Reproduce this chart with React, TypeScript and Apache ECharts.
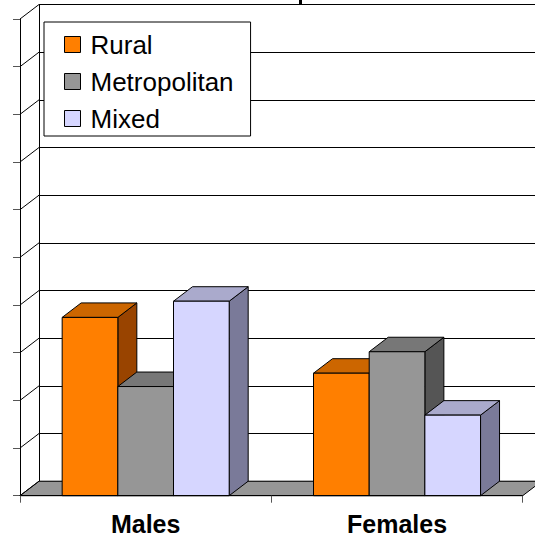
import React, { useEffect, useRef } from "react";
import * as echarts from "echarts";

const categories = ["Males", "Females"];
const seriesNames = ["Rural", "Metropolitan", "Mixed"];
const ruralValues = [3.74, 2.57];
const metroValues = [2.29, 3.02];
const mixedValues = [4.08, 1.69];
const valueTicks = [0, 1, 2, 3, 4, 5, 6, 7, 8, 9, 10];

const faceColors = [
  { front: "#FF7F00", top: "#CC6600", side: "#994400" },
  { front: "#969696", top: "#777777", side: "#555555" },
  { front: "#D6D6FF", top: "#AAAACC", side: "#7A7A99" },
];

const DX = 19;
const DY = -14.5;
const BAR_FRAC = 0.2215;

function barRenderer(i: number) {
  const c = faceColors[i];
  return (params: any, api: any) => {
    const cat = api.value(0);
    const val = api.value(1);
    const top = api.coord([cat, val]);
    const base = api.coord([cat, 0]);
    const band = api.size([1, 0])[0];
    const w = band * BAR_FRAC;
    const x0 = top[0] + (i - 1.5) * w;
    const x1 = x0 + w;
    const yT = top[1];
    const yB = base[1];
    return {
      type: "group",
      children: [
        {
          type: "polygon",
          shape: { points: [[x1, yT], [x1 + DX, yT + DY], [x1 + DX, yB + DY], [x1, yB]] },
          style: { fill: c.side, stroke: "#000", lineWidth: 1 },
        },
        {
          type: "polygon",
          shape: { points: [[x0, yT], [x1, yT], [x1 + DX, yT + DY], [x0 + DX, yT + DY]] },
          style: { fill: c.top, stroke: "#000", lineWidth: 1 },
        },
        {
          type: "rect",
          shape: { x: x0, y: yT, width: w, height: yB - yT },
          style: { fill: c.front, stroke: "#000", lineWidth: 1 },
        },
      ],
    };
  };
}

function frameRenderer(params: any, api: any) {
  const cs = params.coordSys;
  const gx = cs.x;
  const gw = cs.width;
  const yB = api.coord([0, 0])[1];
  const children: any[] = [
    {
      type: "polygon",
      shape: { points: [[gx, yB], [gx + gw, yB], [gx + gw + DX, yB + DY], [gx + DX, yB + DY]] },
      style: { fill: "#969696", stroke: "#000", lineWidth: 1 },
    },
  ];
  valueTicks.forEach((v) => {
    const y = api.coord([0, v])[1];
    children.push({
      type: "line",
      shape: { x1: gx, y1: y, x2: gx + DX, y2: y + DY },
      style: { stroke: "#000", lineWidth: 1 },
    });
  });
  return { type: "group", children };
}

const allValues = [ruralValues, metroValues, mixedValues];

export default function App() {
  const ref = useRef<HTMLDivElement>(null);
  useEffect(() => {
    if (!ref.current) return;
    const chart = echarts.init(ref.current, null, { renderer: "svg" });
    const font = "'Liberation Sans', Arial, sans-serif";
    const option: any = {
      animation: false,
      backgroundColor: "#fff",
      grid: [
        { left: 20, top: 19, right: 12.3, bottom: 43.3 },
        { left: 20 + DX, top: 19 + DY, right: 12.3 - DX, bottom: 43.3 - DY },
      ],
      xAxis: [
        {
          type: "category",
          gridIndex: 0,
          data: categories,
          axisLine: { show: true, lineStyle: { color: "#000", width: 1 } },
          axisTick: { show: true, length: 7, lineStyle: { color: "#555" } },
          axisLabel: {
            fontFamily: font,
            fontWeight: "bold",
            fontSize: 25,
            color: "#000",
            margin: 16,
          },
          z: 5,
        },
        {
          type: "category",
          gridIndex: 1,
          data: categories,
          show: false,
        },
      ],
      yAxis: [
        {
          type: "value",
          gridIndex: 0,
          min: 0,
          max: 10,
          interval: 1,
          axisLine: { show: true, lineStyle: { color: "#000", width: 1 } },
          axisTick: { show: true, length: 7, lineStyle: { color: "#555" } },
          axisLabel: { show: false },
          splitLine: { show: false },
        },
        {
          type: "value",
          gridIndex: 1,
          min: 0,
          max: 10,
          interval: 1,
          axisLine: { show: true, lineStyle: { color: "#000", width: 1 } },
          axisTick: { show: false },
          axisLabel: { show: false },
          splitLine: { show: true, lineStyle: { color: "#000", width: 1 } },
        },
      ],
      legend: {
        orient: "vertical",
        left: 44,
        top: 22,
        padding: [9.5, 17, 4.5, 20],
        itemWidth: 16,
        itemHeight: 16,
        itemGap: 11,
        icon: "rect",
        backgroundColor: "#fff",
        borderColor: "#000",
        borderWidth: 1,
        data: seriesNames,
        itemStyle: { borderColor: "#000", borderWidth: 1 },
        textStyle: {
          fontFamily: font,
          fontSize: 26,
          color: "#000",
          padding: [0, 0, 0, 5],
        },
        z: 10,
      },
      graphic: [
        { type: "rect", shape: { x: 299, y: 0, width: 3, height: 5 }, style: { fill: "#000" } },
      ],
      series: [
        {
          type: "custom",
          name: "frame",
          xAxisIndex: 0,
          yAxisIndex: 0,
          data: [[0, 0]],
          renderItem: frameRenderer,
          silent: true,
          z: 1,
        },
        ...seriesNames.map((name, i) => ({
          type: "custom",
          name,
          xAxisIndex: 0,
          yAxisIndex: 0,
          data: allValues[i].map((v, k) => [k, v]),
          encode: { x: 0, y: 1 },
          renderItem: barRenderer(i),
          itemStyle: { color: faceColors[i].front, borderColor: "#000", borderWidth: 1 },
          z: 2,
        })),
      ],
    };
    chart.setOption(option);
    return () => chart.dispose();
  }, []);
  return (
    <div
      ref={ref}
      style={{ position: "absolute", left: 0, top: 0, width: 535, height: 539 }}
    />
  );
}
